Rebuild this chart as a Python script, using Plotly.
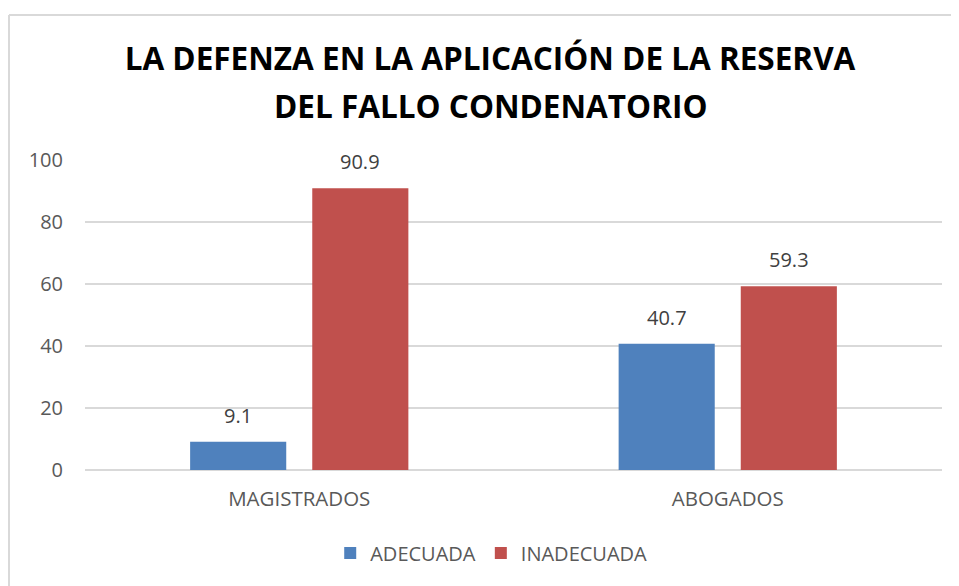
import plotly.graph_objects as go

categories = ["MAGISTRADOS", "ABOGADOS"]
adecuada = [9.1, 40.7]
inadecuada = [90.9, 59.3]
series_names = ["ADECUADA", "INADECUADA"]
colors = ["#4F81BD", "#C0504D"]
y_ticks = [0, 20, 40, 60, 80, 100]

title_line1 = "<b>LA DEFENZA EN LA APLICACIÓN DE LA RESERVA</b>"
title_line2 = "<b>DEL FALLO CONDENATORIO</b>"
FONT = "Open Sans, Calibri, sans-serif"

W, H = 951, 578

fig = go.Figure()
for name, vals, col in zip(series_names, [adecuada, inadecuada], colors):
    fig.add_trace(go.Bar(
        x=categories, y=vals, name=name,
        marker=dict(color=col, line=dict(width=0)),
        cliponaxis=False,
    ))

# data labels
for i, vals in enumerate([adecuada, inadecuada]):
    shift = -61 if i == 0 else 61
    for c, v in zip(categories, vals):
        fig.add_annotation(
            x=c, y=v, text=f"{v:.1f}", showarrow=False,
            xshift=shift, yshift=11, yanchor="bottom",
            font=dict(family=FONT, size=20, color="#404040"),
        )

# second title line
fig.add_annotation(x=0.4737, y=1.177, xref="paper", yref="paper", text=title_line2,
                   showarrow=False, xanchor="center", yanchor="middle",
                   font=dict(family=FONT, size=31.5, color="black"))

# outer chart border (decorative: left and top edges only visible)
bx0, by1 = (1 - 77) / 857, (462 - 7) / 310
fig.add_shape(type="line", xref="paper", yref="paper",
              x0=bx0, x1=(960 - 77) / 857, y0=by1, y1=by1,
              line=dict(color="#D9D9D9", width=2), layer="below")
fig.add_shape(type="line", xref="paper", yref="paper",
              x0=bx0, x1=bx0, y0=(462 - 590) / 310, y1=by1,
              line=dict(color="#D9D9D9", width=2), layer="below")

fig.update_layout(
    width=W, height=H,
    margin=dict(l=77, r=W - 934, t=152, b=H - 462, autoexpand=False),
    paper_bgcolor="white", plot_bgcolor="white",
    title=dict(text=title_line1, x=482 / W, xanchor="center", y=1 - 51 / H, yanchor="middle",
               font=dict(family=FONT, size=31.5, color="black")),
    barmode="group", bargap=0.43, bargroupgap=0.213,
    font=dict(family=FONT, size=20, color="#595959"),
    legend=dict(orientation="h", x=0.474, xanchor="center", y=-0.268, yanchor="middle",
                font=dict(family=FONT, size=20, color="#595959"),
                itemwidth=30, tracegroupgap=0),
    xaxis=dict(showgrid=False, showline=False, ticks="", ticklabelstandoff=14,
               automargin=False, tickfont=dict(size=20.5, color="#595959")),
    yaxis=dict(range=[0, 100], tickvals=y_ticks, showgrid=True, gridcolor="#D9D9D9",
               gridwidth=2, zeroline=True, zerolinecolor="#D9D9D9", zerolinewidth=2,
               showline=False, ticks="", ticklabelstandoff=21, automargin=False,
               tickfont=dict(size=20, color="#595959")),
)

fig.write_html("out.html")
